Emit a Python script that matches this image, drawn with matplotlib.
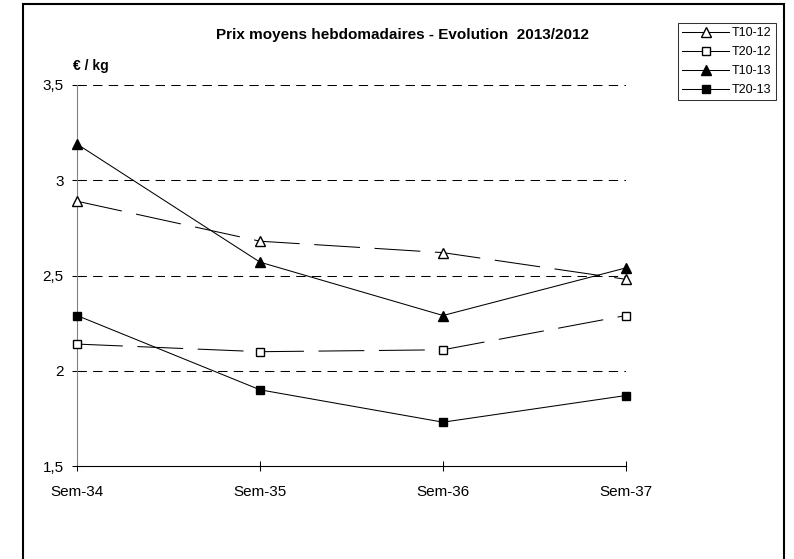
import matplotlib.pyplot as plt
from matplotlib.lines import Line2D
from matplotlib.patches import Rectangle

plt.rcParams['font.family'] = ['Liberation Sans', 'DejaVu Sans']

weeks = ["Sem-34", "Sem-35", "Sem-36", "Sem-37"]
t10_12 = [2.89, 2.68, 2.62, 2.48]
t20_12 = [2.14, 2.10, 2.11, 2.29]
t10_13 = [3.19, 2.57, 2.29, 2.54]
t20_13 = [2.29, 1.90, 1.73, 1.87]
yticks = [1.5, 2, 2.5, 3, 3.5]
ytick_labels = ["1,5", "2", "2,5", "3", "3,5"]

fig = plt.figure(figsize=(7.94, 5.59), dpi=100)
ax = fig.add_axes([77 / 794, 1 - 466 / 559, (626 - 77) / 794, (466 - 85) / 559])

x = list(range(len(weeks)))
long_dash = (0, (44, 14))
ax.plot(x, t10_12, color="black", lw=0.75, linestyle=long_dash, marker="^",
        ms=7, mfc="white", mec="black", mew=1, clip_on=False, zorder=3)
ax.plot(x, t20_12, color="black", lw=0.75, linestyle=long_dash, marker="s",
        ms=6, mfc="white", mec="black", mew=1, clip_on=False, zorder=3)
ax.plot(x, t10_13, color="black", lw=0.75, marker="^",
        ms=7, mfc="black", mec="black", clip_on=False, zorder=3)
ax.plot(x, t20_13, color="black", lw=0.75, marker="s",
        ms=6, mfc="black", mec="black", clip_on=False, zorder=3)

ax.set_xlim(0, 3)
ax.set_ylim(1.5, 3.5)
ax.set_xticks(x)
ax.set_xticklabels(weeks)
ax.set_yticks(yticks)
ax.set_yticklabels(ytick_labels)
for v in yticks[1:]:
    ax.axhline(v, color="black", lw=0.75, linestyle=(0, (9, 6)), zorder=1)

for s in ["top", "right"]:
    ax.spines[s].set_visible(False)
ax.spines["left"].set_color("#808080")
ax.spines["bottom"].set_color("black")
ax.tick_params(axis="both", direction="inout", length=7, width=0.75,
               labelsize=11)
ax.tick_params(axis="y", pad=6, colors="black")
ax.tick_params(axis="x", pad=10)

fig.text(403 / 794, 1 - 35 / 559, "Prix moyens hebdomadaires - Evolution  2013/2012",
         ha="center", va="center", fontsize=11, fontweight="bold")
fig.text(73 / 794, 1 - 66 / 559, "€ / kg", ha="left", va="center",
         fontsize=10, fontweight="bold")

handles = [
    Line2D([], [], color="black", lw=0.75, marker="^", ms=6.5, mfc="white", mec="black"),
    Line2D([], [], color="black", lw=0.75, marker="s", ms=5.5, mfc="white", mec="black"),
    Line2D([], [], color="black", lw=0.75, marker="^", ms=6.5, mfc="black", mec="black"),
    Line2D([], [], color="black", lw=0.75, marker="s", ms=5.5, mfc="black", mec="black"),
]
leg = fig.legend(handles, ["T10-12", "T20-12", "T10-13", "T20-13"],
                 loc="upper left", bbox_to_anchor=(678 / 794, 1 - 23 / 559),
                 fontsize=9, frameon=True, fancybox=False, handlelength=3.7,
                 handletextpad=0.25, borderpad=0.35, labelspacing=0.55,
                 borderaxespad=0)
leg.get_frame().set_edgecolor("black")
leg.get_frame().set_linewidth(0.75)

fig.patches.append(Rectangle((23 / 794, -0.02), (784 - 23) / 794, 1.02 - 4 / 559,
                             transform=fig.transFigure, fill=False,
                             edgecolor="black", lw=1.5))

fig.savefig("out.png", dpi=100)
